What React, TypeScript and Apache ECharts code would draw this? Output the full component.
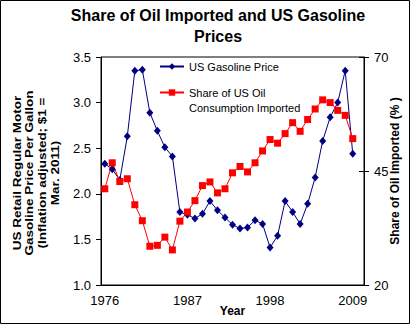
import React, { useEffect, useRef } from 'react';
import * as echarts from 'echarts';

const years = [
  '1976', '1977', '1978', '1979', '1980', '1981', '1982', '1983', '1984', '1985',
  '1986', '1987', '1988', '1989', '1990', '1991', '1992', '1993', '1994', '1995',
  '1996', '1997', '1998', '1999', '2000', '2001', '2002', '2003', '2004', '2005',
  '2006', '2007', '2008', '2009', '2010',
];

const gasolinePrice = [
  2.33, 2.27, 2.15, 2.63, 3.35, 3.36, 2.89, 2.69, 2.51, 2.41,
  1.80, 1.77, 1.73, 1.78, 1.92, 1.82, 1.74, 1.66, 1.62, 1.63,
  1.71, 1.67, 1.41, 1.54, 1.92, 1.80, 1.67, 1.89, 2.18, 2.58,
  2.84, 3.00, 3.35, 2.44,
];

const oilImportShare = [
  41.1, 46.8, 42.7, 43.3, 37.6, 34.1, 28.5, 28.7, 30.5, 27.7,
  34.0, 36.0, 38.5, 41.8, 42.6, 40.2, 41.1, 44.6, 46.0, 44.8,
  46.8, 49.4, 51.9, 51.1, 53.2, 55.6, 53.7, 56.3, 58.6, 60.6,
  60.0, 58.3, 57.2, 52.1,
];

const priceAxis = { min: 1, max: 3.5, interval: 0.5 };
const shareAxis = { min: 20, max: 70, interval: 25 };

const titleText = 'Share of Oil Imported and US Gasoline\nPrices';
const priceName = 'US Gasoline Price';
const shareName = 'Share of US Oil Consumption Imported';
const shareLegendText = '\nShare of US Oil\nConsumption Imported';
const leftAxisName = 'US Retail Regular Motor\nGasoline Price Per Gallon\n(Inflation adjusted; $1 =\nMar. 2011)';
const rightAxisName = 'Share of Oil Imported (% )';
const xAxisName = 'Year';

const FONT = 'Arial, "Liberation Sans", Helvetica, sans-serif';

export default function App() {
  const ref = useRef<HTMLDivElement>(null);

  useEffect(() => {
    if (!ref.current) return;
    const chart = echarts.init(ref.current, undefined, { renderer: 'svg' });
    const tickStyle = { color: '#000', width: 1 };
    const option: any = {
      animation: false,
      backgroundColor: '#ffffff',
      title: {
        text: titleText,
        left: 218,
        top: 5,
        textAlign: 'center',
        padding: 0,
        textStyle: { fontFamily: FONT, fontSize: 16, fontWeight: 'bold', color: '#000', lineHeight: 21 },
      },
      legend: [
        {
          data: [priceName],
          left: 159,
          top: 61,
          padding: 0,
          itemWidth: 24,
          itemHeight: 8,
          textStyle: { fontFamily: FONT, fontSize: 11, color: '#000' },
        },
        {
          data: [shareName],
          left: 159,
          top: 70,
          padding: 0,
          itemWidth: 24,
          itemHeight: 8,
          formatter: () => shareLegendText,
          textStyle: { fontFamily: FONT, fontSize: 11, color: '#000', lineHeight: 15 },
        },
      ],
      grid: {
        left: 101,
        top: 57,
        width: 263,
        height: 228,
        show: true,
        borderColor: '#000',
        borderWidth: 1,
        backgroundColor: 'transparent',
      },
      xAxis: [
        {
          type: 'category',
          data: years,
          boundaryGap: true,
          axisLine: { lineStyle: { color: '#000', width: 1 } },
          axisTick: { interval: 10, length: 4, lineStyle: tickStyle },
          axisLabel: { interval: 10, margin: 9, fontSize: 13, color: '#000', fontFamily: FONT },
          splitLine: { show: false },
          name: xAxisName,
          nameLocation: 'middle',
          nameGap: 20,
          nameMoveOverlap: false,
          nameTextStyle: { fontFamily: FONT, fontSize: 12, fontWeight: 'bold', color: '#000' },
        },
        {
          type: 'category',
          data: years,
          boundaryGap: true,
          position: 'bottom',
          axisLine: { show: false },
          axisTick: { inside: true, interval: 10, length: 4, lineStyle: tickStyle },
          axisLabel: { show: false },
          splitLine: { show: false },
        },
      ],
      yAxis: [
        {
          type: 'value',
          position: 'left',
          ...priceAxis,
          axisLine: { show: true, lineStyle: { color: '#000', width: 1 } },
          axisTick: { show: true, length: 5, lineStyle: tickStyle },
          axisLabel: { formatter: (v: number) => v.toFixed(1), margin: 10, fontSize: 13, color: '#000', fontFamily: FONT },
          splitLine: { show: false },
        },
        {
          type: 'value',
          position: 'right',
          ...shareAxis,
          axisLine: { show: true, lineStyle: { color: '#000', width: 1 } },
          axisTick: { show: true, length: 5, lineStyle: tickStyle },
          axisLabel: { margin: 10, fontSize: 13, color: '#000', fontFamily: FONT },
          splitLine: { show: false },
          name: rightAxisName,
          nameLocation: 'middle',
          nameRotate: 90,
          nameGap: 25,
          nameMoveOverlap: false,
          nameTextStyle: { fontFamily: FONT, fontSize: 12, fontWeight: 'bold', color: '#000' },
        },
        {
          type: 'value',
          position: 'right',
          ...shareAxis,
          axisLine: { show: false },
          axisTick: { show: true, inside: true, length: 5, lineStyle: tickStyle },
          axisLabel: { show: false },
          splitLine: { show: false },
        },
      ],
      series: [
        {
          name: priceName,
          type: 'line',
          data: gasolinePrice,
          xAxisIndex: 0,
          yAxisIndex: 0,
          symbol: 'diamond',
          symbolSize: [7, 8],
          showAllSymbol: true,
          itemStyle: { color: '#000080' },
          lineStyle: { color: '#000080', width: 1 },
        },
        {
          name: shareName,
          type: 'line',
          data: oilImportShare,
          xAxisIndex: 0,
          yAxisIndex: 1,
          symbol: 'rect',
          symbolSize: 7,
          showAllSymbol: true,
          itemStyle: { color: '#ff0000' },
          lineStyle: { color: '#ff0000', width: 1 },
        },
      ],
      graphic: [
        {
          type: 'text',
          silent: true,
          x: 36,
          y: 173,
          rotation: Math.PI / 2,
          scaleY: 0.84,
          style: {
            text: leftAxisName,
            fontFamily: FONT,
            fontSize: 13.5,
            fontWeight: 'bold',
            lineHeight: 15,
            fill: '#000',
            align: 'center',
            verticalAlign: 'middle',
          },
        },
        {
          type: 'rect',
          silent: true,
          z: 100,
          shape: { x: 0.5, y: 0.5, width: 409, height: 323 },
          style: { fill: 'none', stroke: '#000', lineWidth: 1 },
        },
      ],
    };
    chart.setOption(option);
    return () => chart.dispose();
  }, []);

  return (
    <div
      ref={ref}
      style={{ position: 'fixed', left: 0, top: 0, width: 414, height: 329, background: '#fff' }}
    />
  );
}
